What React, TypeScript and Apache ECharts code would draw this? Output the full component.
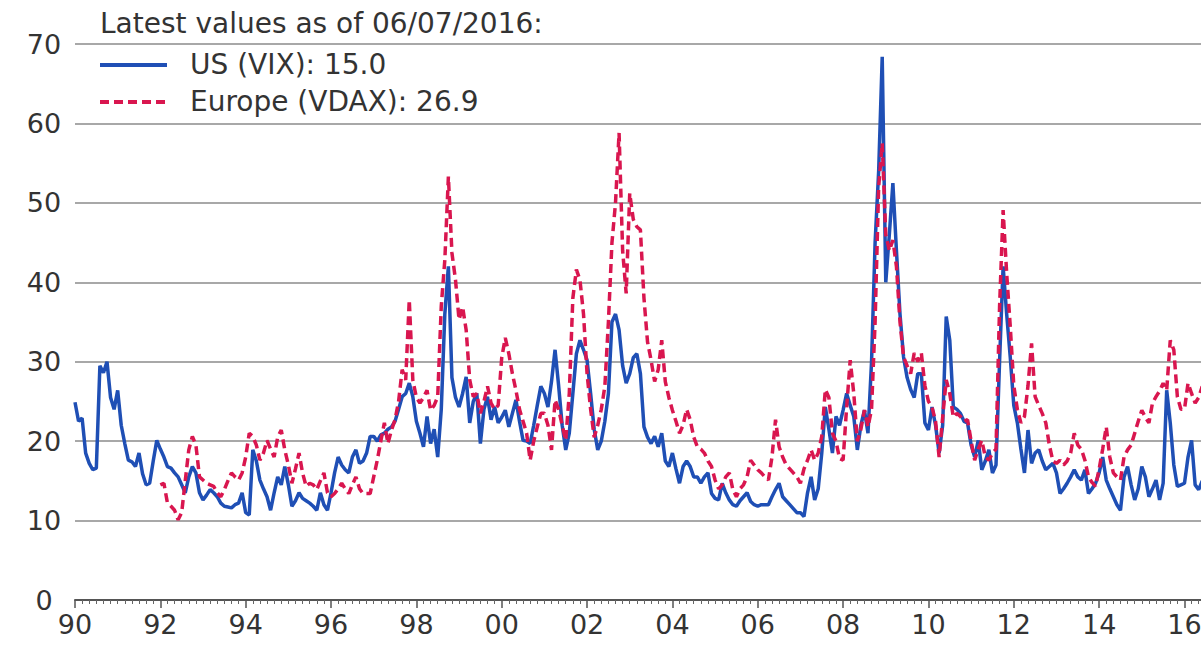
import React, { useEffect, useRef } from "react";
import * as echarts from "echarts";

// Monthly averages, US VIX, from Jan 1990
const vixStartYear = 1990;
const vix: number[] = [
  // 1990
  24.9, 22.5, 22.9, 18.5, 17.2, 16.4, 16.6, 29.5, 28.6, 30.0, 25.5, 24.0,
  // 1991
  26.4, 22.0, 19.7, 17.6, 17.4, 16.8, 18.5, 15.9, 14.5, 14.7, 17.5, 20.1,
  // 1992
  19.0, 18.0, 16.8, 16.6, 16.0, 15.5, 14.5, 13.5, 15.5, 16.8, 16.0, 13.5,
  // 1993
  12.6, 13.2, 13.9, 13.5, 13.0, 12.2, 11.8, 11.7, 11.6, 12.0, 12.2, 13.5,
  // 1994
  11.0, 10.7, 18.9, 17.5, 15.1, 14.0, 13.0, 11.3, 13.5, 15.5, 14.5, 16.8,
  // 1995
  14.5, 11.8, 12.5, 13.5, 12.8, 12.5, 12.2, 11.8, 11.3, 13.5, 12.0, 11.3,
  // 1996
  13.5, 16.0, 18.0, 17.0, 16.4, 16.0, 18.0, 18.9, 17.2, 17.5, 18.5, 20.6,
  // 1997
  20.6, 20.0, 20.8, 21.0, 21.5, 21.8, 22.5, 24.0, 25.6, 26.0, 27.3, 25.6,
  // 1998
  22.5, 21.0, 19.3, 23.1, 19.7, 21.5, 18.0, 24.0, 36.0, 42.0, 28.0, 25.5,
  // 1999
  24.3, 26.0, 28.1, 22.3, 25.0, 26.0, 19.7, 24.0, 25.6, 22.7, 24.3, 22.3,
  // 2000
  23.0, 23.9, 21.8, 23.5, 25.2, 22.5, 20.1, 20.0, 19.7, 22.0, 24.5, 26.9,
  // 2001
  26.0, 24.3, 27.5, 31.5, 27.0, 22.0, 18.9, 21.0, 26.0, 31.0, 32.7, 31.5,
  // 2002
  30.2, 26.0, 21.5, 18.9, 20.0, 22.5, 26.0, 35.0, 36.0, 34.0, 29.5, 27.3,
  // 2003
  28.5, 30.5, 31.0, 28.5, 21.8, 20.5, 19.7, 20.6, 19.3, 21.0, 17.5, 16.8,
  // 2004
  18.5, 16.5, 14.7, 16.8, 17.5, 16.8, 15.5, 15.5, 14.7, 15.5, 16.0, 13.4,
  // 2005
  12.8, 12.6, 14.7, 13.5, 12.6, 12.0, 11.8, 12.5, 13.0, 13.5, 12.4, 12.0,
  // 2006
  11.8, 12.0, 12.0, 12.0, 13.0, 13.9, 14.7, 13.0, 12.5, 12.0, 11.5, 11.0,
  // 2007
  11.0, 10.5, 13.5, 15.5, 12.6, 14.0, 18.5, 24.3, 21.5, 18.5, 23.1, 22.0,
  // 2008
  23.9, 26.0, 24.5, 23.1, 18.9, 22.0, 23.9, 21.0, 30.0, 45.0, 54.0, 68.4,
  // 2009
  40.0, 46.0, 52.5, 44.0, 36.0, 30.6, 28.0, 26.5, 25.5, 28.5, 28.5, 22.3,
  // 2010
  21.4, 24.3, 22.0, 18.5, 22.0, 35.7, 32.7, 24.3, 24.0, 23.5, 22.5, 22.3,
  // 2011
  19.5, 18.0, 20.1, 16.4, 17.5, 18.9, 16.0, 17.0, 30.0, 42.0, 36.0, 30.6,
  // 2012
  24.5, 22.3, 19.0, 16.0, 21.4, 17.2, 18.5, 18.9, 17.5, 16.4, 16.8, 17.2,
  // 2013
  16.0, 13.4, 14.0, 14.7, 15.5, 16.4, 15.5, 15.1, 16.4, 13.4, 14.0, 14.7,
  // 2014
  16.0, 18.0, 15.1, 14.0, 13.0, 12.0, 11.3, 15.5, 16.8, 14.5, 12.6, 14.0,
  // 2015
  16.8, 15.5, 13.0, 14.0, 15.1, 12.6, 14.7, 26.4, 22.3, 17.0, 14.3, 14.5,
  // 2016
  14.7, 18.0, 20.1, 14.5, 13.9, 15.0,
];

// Monthly averages, Europe VDAX, from Jan 1992
const vdaxStartYear = 1992;
const vdax: number[] = [
  // 1992
  14.5, 14.7, 12.2, 11.8, 11.3, 10.1, 11.0, 15.0, 18.9, 20.6, 19.5, 15.5,
  // 1993
  15.1, 14.7, 14.5, 14.3, 13.5, 13.0, 13.9, 15.0, 16.0, 15.5, 15.1, 16.0,
  // 1994
  18.0, 21.0, 20.6, 19.5, 17.6, 18.5, 20.1, 19.0, 18.0, 20.5, 21.4, 18.9,
  // 1995
  17.0, 14.7, 16.5, 18.5, 16.0, 14.3, 14.7, 14.5, 13.9, 15.0, 16.0, 13.5,
  // 1996
  13.0, 13.4, 14.0, 14.7, 14.0, 13.4, 14.5, 15.5, 14.0, 13.4, 13.4, 13.4,
  // 1997
  15.5, 17.6, 20.0, 22.3, 19.7, 21.4, 22.7, 25.0, 29.0, 27.7, 37.8, 27.7,
  // 1998
  25.5, 24.8, 25.5, 26.4, 23.9, 24.5, 25.6, 37.0, 42.8, 53.3, 43.7, 40.3,
  // 1999
  35.3, 36.9, 34.0, 27.7, 25.6, 26.0, 23.5, 25.0, 26.9, 24.8, 24.0, 24.5,
  // 2000
  30.5, 33.0, 31.0, 28.5, 26.4, 24.0, 22.5, 21.0, 17.6, 20.0, 21.8, 23.5,
  // 2001
  23.5, 22.0, 18.9, 25.2, 24.0, 22.0, 20.1, 26.0, 38.0, 41.6, 40.3, 36.0,
  // 2002
  28.5, 24.0, 20.5, 22.0, 24.0, 26.9, 35.0, 45.0, 50.0, 58.8, 44.0, 38.6,
  // 2003
  51.2, 47.9, 47.0, 46.6, 38.0, 32.5, 30.2, 27.5, 29.0, 32.7, 27.5, 25.5,
  // 2004
  23.9, 22.5, 21.0, 22.0, 24.0, 22.7, 20.5, 19.3, 19.0, 18.5, 17.5, 16.8,
  // 2005
  15.1, 14.0, 14.5, 15.5, 16.0, 13.9, 13.0, 14.0, 14.5, 15.5, 17.6, 17.0,
  // 2006
  16.4, 16.0, 15.5, 15.1, 18.0, 22.7, 19.3, 18.0, 17.0, 16.5, 16.0, 15.5,
  // 2007
  14.7, 16.5, 17.6, 18.9, 17.6, 18.5, 20.6, 26.5, 25.5, 21.0, 20.0, 17.8,
  // 2008
  17.6, 24.3, 30.2, 26.0, 20.0, 21.5, 23.9, 21.8, 24.0, 35.0, 52.0, 57.5,
  // 2009
  46.0, 44.0, 45.3, 42.0, 35.0, 30.6, 29.5, 28.5, 31.1, 30.0, 31.1, 27.0,
  // 2010
  25.0, 24.3, 22.5, 18.0, 23.0, 27.7, 26.0, 23.0, 23.5, 23.1, 22.5, 22.7,
  // 2011
  20.0, 17.6, 19.0, 20.1, 18.0, 17.6, 18.5, 19.0, 36.9, 49.1, 41.1, 34.5,
  // 2012
  27.0, 24.0, 22.3, 23.1, 27.0, 32.3, 25.6, 24.5, 23.5, 22.3, 19.5, 17.5,
  // 2013
  17.2, 17.6, 17.0, 17.5, 18.5, 21.0, 19.5, 19.0, 17.6, 15.5, 14.8, 14.3,
  // 2014
  16.5, 19.0, 21.8, 18.0, 16.0, 15.5, 15.1, 18.0, 18.9, 19.5, 21.0, 22.5,
  // 2015
  23.9, 23.0, 22.3, 24.8, 25.6, 26.3, 27.3, 26.4, 32.7, 31.5, 25.6, 24.0,
  // 2016
  24.0, 27.3, 26.0, 24.8, 25.5, 26.9,
];

const titleText = "Latest values as of 06/07/2016:";
const legendVix = "US (VIX): 15.0";
const legendVdax = "Europe (VDAX): 26.9";

const BLUE = "#1f4fb5";
const RED = "#d9164f";
const FONT = "DejaVu Sans";

const toPairs = (vals: number[], start: number) =>
  vals.map((v, i) => [start + i / 12, v]);

export default function App() {
  const ref = useRef<HTMLDivElement>(null);
  useEffect(() => {
    if (!ref.current) return;
    const chart = echarts.init(ref.current, undefined, { renderer: "svg" });
    const pxPerYear = 42.8;
    chart.setOption({
      animation: false,
      grid: { left: 75, top: 44, width: pxPerYear * 28, height: 556 },
      xAxis: {
        type: "value",
        min: 1990,
        max: 2018,
        interval: 2,
        axisLine: { show: true, lineStyle: { color: "#555", width: 2 } },
        axisTick: { show: true, length: 8, lineStyle: { color: "#555", width: 1.5 } },
        minorTick: { show: true, splitNumber: 12, length: 4, lineStyle: { color: "#666", width: 1 } },
        splitLine: { show: false },
        axisLabel: {
          formatter: (v: number) => String(Math.round(v) % 100).padStart(2, "0"),
          fontSize: 27,
          color: "#333",
          fontFamily: FONT,
          margin: 11,
        },
      },
      yAxis: {
        type: "value",
        min: 0,
        max: 70,
        interval: 10,
        axisLine: { show: false },
        axisTick: { show: false },
        splitLine: { lineStyle: { color: "#a8a8a8", width: 2 } },
        axisLabel: {
          fontSize: 27,
          color: "#333",
          fontFamily: FONT,
          margin: 31,
          align: "center",
        },
      },
      series: [
        {
          type: "line",
          name: "US (VIX)",
          data: toPairs(vix, vixStartYear),
          symbol: "none",
          lineStyle: { color: BLUE, width: 3.5 },
          z: 2,
        },
        {
          type: "line",
          name: "Europe (VDAX)",
          data: toPairs(vdax, vdaxStartYear),
          symbol: "none",
          lineStyle: { color: RED, width: 3.5, type: [9, 5] },
          z: 3,
        },
      ],
      graphic: [
        {
          type: "text",
          left: 100,
          top: 9,
          style: { text: titleText, fontSize: 28, fontFamily: FONT, fill: "#333" },
        },
        {
          type: "line",
          shape: { x1: 100, y1: 65, x2: 167, y2: 65 },
          style: { stroke: BLUE, lineWidth: 4 },
        },
        {
          type: "text",
          left: 190,
          top: 50,
          style: { text: legendVix, fontSize: 28, fontFamily: FONT, fill: "#333" },
        },
        {
          type: "line",
          shape: { x1: 100, y1: 102, x2: 167, y2: 102 },
          style: { stroke: RED, lineWidth: 4, lineDash: [9, 5] },
        },
        {
          type: "text",
          left: 190,
          top: 87,
          style: { text: legendVdax, fontSize: 28, fontFamily: FONT, fill: "#333" },
        },
      ],
    });
    return () => chart.dispose();
  }, []);
  return (
    <div
      style={{ position: "absolute", left: 0, top: 0, width: 1201, height: 646, overflow: "hidden", background: "#fff" }}
    >
      <div ref={ref} style={{ width: 1290, height: 646 }} />
    </div>
  );
}
